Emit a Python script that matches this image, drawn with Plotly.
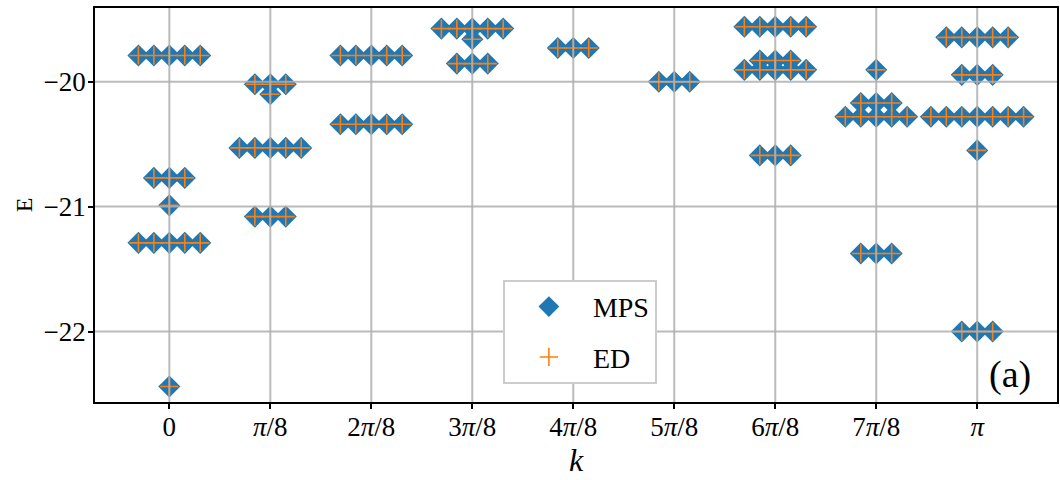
import plotly.graph_objects as go

# ---------------- data ----------------
k_labels = ["0", "<i>π</i>/8", "2<i>π</i>/8", "3<i>π</i>/8", "4<i>π</i>/8",
            "5<i>π</i>/8", "6<i>π</i>/8", "7<i>π</i>/8", "<i>π</i>"]
k_index = list(range(len(k_labels)))

# energy levels (k index, energy, degeneracy)
level_k = [0, 0, 0, 0, 0,
           1, 1, 1, 1,
           2, 2,
           3, 3, 3,
           4,
           5,
           6, 6, 6, 6,
           7, 7, 7, 7,
           8, 8, 8, 8, 8]
level_E = [-19.79, -20.77, -20.99, -21.29, -22.44,
           -20.02, -20.10, -20.53, -21.08,
           -19.79, -20.34,
           -19.575, -19.66, -19.855,
           -19.73,
           -20.00,
           -19.56, -19.83, -19.905, -20.59,
           -19.905, -20.17, -20.28, -21.375,
           -19.645, -19.945, -20.28, -20.55, -22.00]
level_deg = [5, 3, 1, 5, 1,
             3, 1, 5, 3,
             5, 5,
             5, 1, 3,
             3,
             3,
             5, 3, 5, 3,
             1, 3, 5, 3,
             5, 3, 7, 1, 3]

y_ticks = [-20, -21, -22]
y_tick_labels = ["−20", "−21", "−22"]

# ---------------- expand degenerate states ----------------
SPREAD = 0.153
xs, ys = [], []
for k, e, d in zip(level_k, level_E, level_deg):
    for j in range(d):
        xs.append(k + (j - (d - 1) / 2) * SPREAD)
        ys.append(e)

BLUE = "#1f77b4"
ORANGE = "#ff7f0e"
FONT = "Liberation Serif"

fig = go.Figure()
fig.add_trace(go.Scatter(
    x=xs, y=ys, mode="markers", name="MPS", legendgroup="mps",
    marker=dict(symbol="diamond", size=17, color=BLUE, line=dict(width=0)),
))
fig.add_trace(go.Scatter(
    x=xs, y=ys, mode="markers", name="ED", legendgroup="ed",
    marker=dict(symbol="cross-thin", size=13, color=ORANGE,
                line=dict(width=1.6, color=ORANGE)),
))

# grid lines drawn above the markers (as in the reference)
grid_style = dict(color="rgba(175,175,175,0.85)", width=2)
for k in k_index:
    fig.add_shape(type="line", xref="x", yref="paper", x0=k, x1=k, y0=0, y1=1,
                  line=grid_style, layer="above")
for yv in y_ticks:
    fig.add_shape(type="line", xref="paper", yref="y", x0=0, x1=1, y0=yv, y1=yv,
                  line=grid_style, layer="above")

fig.add_annotation(text="(a)", xref="paper", yref="paper", x=0.951, y=0.069,
                   showarrow=False, font=dict(family=FONT, size=38, color="black"),
                   xanchor="center", yanchor="middle")

axis_common = dict(showline=True, linecolor="black", linewidth=1.5, mirror=True,
                   ticks="outside", ticklen=5, tickwidth=1.5, tickcolor="black",
                   showgrid=False, zeroline=False, automargin=False,
                   tickfont=dict(family=FONT, size=27, color="black"))

fig.update_layout(
    width=1060, height=480,
    margin=dict(l=95, r=3, t=8, b=78),
    plot_bgcolor="white", paper_bgcolor="white",
    xaxis=dict(range=[-0.736, 8.79], tickmode="array", tickvals=k_index,
               ticktext=k_labels, ticklabelstandoff=-5,
               title=dict(text="<i>k</i>", font=dict(family=FONT, size=32, color="black"),
                          standoff=0),
               **axis_common),
    yaxis=dict(range=[-22.564, -19.41], tickmode="array", tickvals=y_ticks,
               ticktext=y_tick_labels, ticklabelstandoff=-3,
               title=dict(text="E", font=dict(family=FONT, size=24, color="black"),
                          standoff=4),
               **axis_common),
    legend=dict(x=0.424, y=0.31, xanchor="left", yanchor="top",
                bgcolor="white", bordercolor="#cccccc", borderwidth=2,
                font=dict(family=FONT, size=28, color="black"),
                itemwidth=78, tracegroupgap=11),
    showlegend=True,
)

fig.write_html("out.html",
               config={"displayModeBar": False},
               post_script="document.body.style.margin='0px';document.body.style.overflow='hidden';")
